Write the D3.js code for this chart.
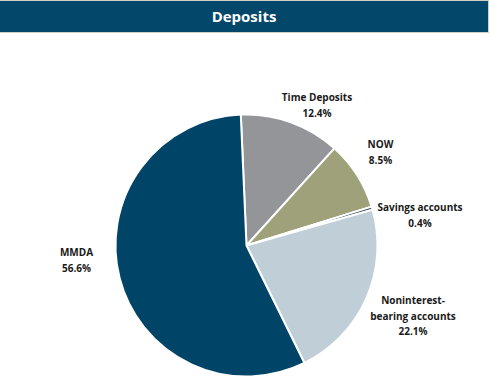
<!DOCTYPE html>
<html><head><meta charset="utf-8">
<script src="https://cdn.jsdelivr.net/npm/d3@7"></script>
<style>body{margin:0;background:#fff;}</style>
</head><body>
<svg id="c" width="491" height="383"></svg>
<script>
const title = "Deposits";
const categories = ["Time Deposits", "NOW", "Savings accounts", "Noninterest-bearing accounts", "MMDA"];
const values = [12.4, 8.5, 0.4, 22.1, 56.6];
const labelLines = [["Time Deposits"], ["NOW"], ["Savings accounts"], ["Noninterest-", "bearing accounts"], ["MMDA"]];
const colors = ["#939598", "#9ea179", "#3e4f60", "#c0ced7", "#004468"];

const svg = d3.select("#c");
svg.append("rect").attr("x",0).attr("y",0).attr("width",489).attr("height",33).attr("fill","#d0d0c4");
svg.append("rect").attr("x",0).attr("y",1).attr("width",488).attr("height",31).attr("fill","#03476b");
svg.append("text").attr("x",244).attr("y",22).attr("text-anchor","middle")
  .attr("fill","#fff").attr("font-family","Open Sans, sans-serif").attr("font-weight","bold")
  .attr("font-size","15px").text(title);

const cx = 246.5, cy = 245.5, r = 131;
const start = -2.5 * Math.PI/180;
const pie = d3.pie().sort(null).value(d=>d).startAngle(start).endAngle(start + 2*Math.PI);
const arc = d3.arc().innerRadius(0).outerRadius(r);
const g = svg.append("g").attr("transform",`translate(${cx},${cy})`);
g.selectAll("path").data(pie(values)).join("path")
  .attr("d",arc).attr("fill",(d,i)=>colors[i]).attr("stroke","#fff").attr("stroke-width",2).attr("stroke-linejoin","round");

const labelPos = [[317,97],[380.5,144],[420,207],[413,300],[76.5,252]];
const lab = svg.append("g").attr("font-family","Open Sans, sans-serif").attr("font-weight","bold")
  .attr("font-size","10px").attr("fill","#1a1a1a").attr("text-anchor","middle");
categories.forEach((c,i)=>{
  const t = lab.append("text").attr("x",labelPos[i][0]).attr("y",labelPos[i][1]+4);
  const lines = labelLines[i].concat([d3.format(".1f")(values[i])+"%"]);
  lines.forEach((l,j)=>t.append("tspan").attr("x",labelPos[i][0]).attr("dy", j===0?0:15.5).text(l));
});
</script>
</body></html>
